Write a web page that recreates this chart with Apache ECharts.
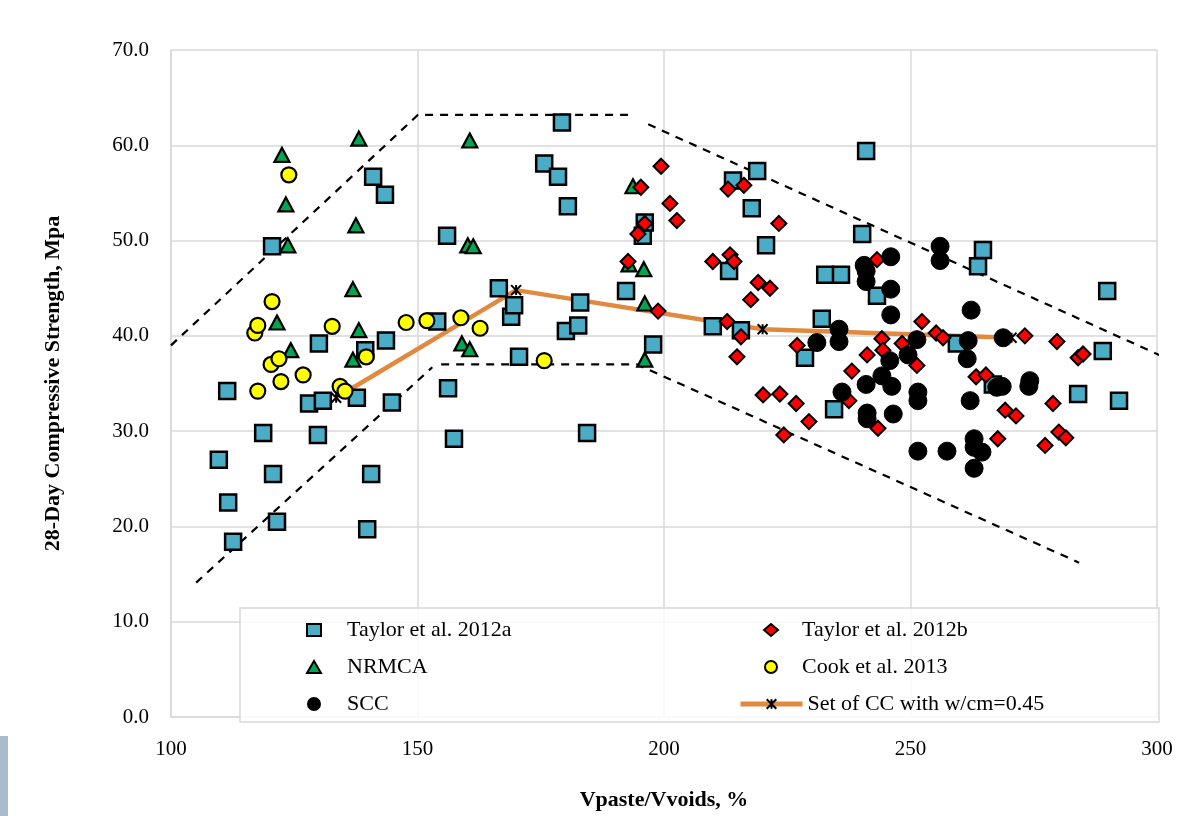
<!DOCTYPE html>
<html>
<head>
<meta charset="utf-8">
<title>28-Day Compressive Strength vs Vpaste/Vvoids</title>
<script src="https://cdn.jsdelivr.net/npm/echarts@6/dist/echarts.min.js"></script>
<style>
  html, body { margin: 0; padding: 0; background: #fff; }
  #myChart { width: 1188px; height: 816px; }
</style>
</head>
<body>
<div id="myChart"></div>
<script>
// values: [Vpaste/Vvoids %, strength MPa]
const taylorA = [
  [109.7, 27.0], [111.4, 34.2], [111.6, 22.5], [112.6, 18.4], [118.7, 29.8], [120.5, 49.4],
  [120.7, 25.5], [121.5, 20.5], [128.0, 32.9], [129.8, 29.6], [130.0, 39.2], [130.8, 33.2],
  [137.7, 33.5], [139.4, 38.5], [139.8, 19.7], [140.6, 25.5], [141.0, 56.7], [143.4, 54.8],
  [143.6, 39.5], [144.8, 33.0],
  [154.0, 41.5], [156.0, 50.5], [156.2, 34.5], [157.4, 29.2], [166.5, 45.0], [169.0, 42.0],
  [169.6, 43.2], [170.6, 37.8], [175.7, 58.1], [178.5, 56.7], [179.3, 62.4], [180.1, 40.5],
  [180.5, 53.6], [182.6, 41.1], [183.0, 43.5], [184.4, 29.8], [192.3, 44.7], [195.7, 50.5],
  [196.1, 51.9], [197.8, 39.1],
  [209.9, 41.0], [213.2, 46.8], [214.0, 56.3], [215.6, 40.6], [217.8, 53.4], [218.9, 57.3],
  [220.7, 49.5], [228.6, 37.7], [232.0, 41.8], [232.7, 46.4], [234.5, 32.3], [235.9, 46.4],
  [240.2, 50.7], [241.0, 59.4], [243.2, 44.2], [259.4, 39.2], [263.7, 47.3], [264.7, 49.0],
  [266.7, 34.9], [284.0, 33.9], [289.0, 38.4], [289.9, 44.7], [292.3, 33.2]
]
const taylorB = [
  [192.7, 47.8], [194.7, 50.7], [195.3, 55.6], [196.1, 51.8], [198.8, 42.6], [199.4, 57.8],
  [201.2, 53.9], [202.6, 52.1], [209.9, 47.8], [212.8, 41.5], [213.0, 55.4], [213.4, 48.5],
  [214.2, 47.8], [214.8, 37.8], [215.6, 39.9], [216.2, 55.8], [217.6, 43.8], [219.1, 45.6],
  [220.1, 33.8], [221.5, 45.0], [223.3, 51.8], [223.5, 33.9], [224.3, 29.6], [226.8, 32.9],
  [227.0, 39.0], [229.4, 31.0], [237.5, 33.2], [238.1, 36.3], [241.2, 38.0], [243.2, 48.0],
  [243.4, 30.3], [244.2, 39.7], [244.4, 38.5], [248.3, 39.2], [251.3, 36.9], [252.3, 41.5],
  [255.2, 40.3], [256.6, 39.8], [263.3, 35.7], [265.3, 35.9], [267.7, 29.2], [269.2, 32.2],
  [271.4, 31.6], [273.2, 40.0], [277.3, 28.5], [278.9, 32.9], [279.7, 39.4], [280.1, 29.9],
  [281.5, 29.3], [284.0, 37.7], [285.0, 38.1]
]
const nrmca = [
  [121.5, 41.4], [122.5, 59.0], [123.3, 53.8], [123.7, 49.5], [124.3, 38.5], [136.9, 44.9],
  [136.9, 37.5], [137.5, 51.6], [138.1, 60.7], [138.1, 40.6], [159.0, 39.2], [160.2, 49.5],
  [160.6, 60.5], [160.6, 38.6], [161.3, 49.4], [192.9, 47.5], [193.7, 55.7], [195.9, 47.0],
  [196.1, 43.4], [196.1, 37.5]
]
const cook = [
  [117.0, 40.3], [117.6, 41.1], [117.6, 34.2], [120.3, 37.0], [120.5, 43.6], [121.9, 37.6],
  [122.3, 35.2], [123.9, 56.9], [126.8, 35.9], [132.7, 41.0], [134.3, 34.7], [135.3, 34.2],
  [139.6, 37.8], [147.7, 41.4], [151.9, 41.6], [158.8, 41.9], [162.7, 40.8], [175.7, 37.4]
]
const scc = [
  [231.0, 39.3], [235.5, 40.7], [235.5, 39.4], [236.1, 34.1], [240.6, 47.4], [241.0, 46.8],
  [241.0, 45.7], [241.0, 34.9], [241.2, 31.9], [241.2, 31.3], [244.2, 35.8], [245.8, 37.4],
  [246.0, 48.3], [246.0, 44.9], [246.0, 42.2], [246.2, 34.7], [246.5, 31.8], [249.5, 38.0],
  [251.3, 39.6], [251.5, 34.1], [251.5, 33.2], [251.5, 27.9], [256.0, 49.4], [256.0, 47.9],
  [257.4, 27.9], [261.5, 37.6], [261.7, 39.5], [262.1, 33.2], [262.3, 42.7], [262.9, 29.2],
  [262.9, 28.3], [262.9, 26.1], [264.5, 27.8], [267.5, 34.6], [268.6, 34.7], [268.8, 39.8],
  [274.0, 34.7], [274.2, 35.3]
]
const setCC = [[133.5, 33.5], [170.0, 44.8], [220.0, 40.7], [270.5, 39.8]]

// dashed envelope
const upperLeft = [[100.0, 39.0], [150.1, 63.2], [192.7, 63.2]]
const upperRight = [[196.8, 62.2], [303.0, 37.4]]
const lowerLeft = [[105.1, 14.1], [153.0, 36.7]]
const lowerRight = [[154.8, 37.0], [194.5, 37.0], [284.2, 16.2]]

const xTicks = [100, 150, 200, 250, 300]
const yTicks = [0, 10, 20, 30, 40, 50, 60, 70]

const FONT = '"Liberation Serif", "DejaVu Serif", serif'
const starPath = 'path://M0,0L10,10M10,0L0,10M5,0L5,10'

function dashed(data) {
  return {
    type: 'line',
    data: data,
    symbol: 'none',
    silent: true,
    clip: false,
    z: 1,
    lineStyle: { color: '#000', width: 2.2, type: [8, 7] }
  }
}

function legendCol(names, left, top, width, pad) {
  return {
    data: names,
    orient: 'vertical',
    left: left,
    top: top,
    itemWidth: width,
    itemHeight: 12,
    itemGap: 15,
    z: 5,
    lineStyle: { width: 5 },
    textStyle: {
      fontFamily: FONT, fontSize: 22, color: '#000',
      padding: [0, 0, 0, pad]
    }
  }
}

const myChart = echarts.init(document.getElementById('myChart'))

const option = {
  animation: false,
  backgroundColor: '#fff',
  textStyle: { fontFamily: FONT },
  grid: { left: 171, right: 31, top: 50, bottom: 94 },
  graphic: [
    {
      type: 'rect',
      z: 3,
      shape: { x: 240, y: 608, width: 919, height: 114 },
      style: { fill: 'rgba(255,255,255,0.82)', stroke: '#d9d9d9', lineWidth: 1.5 }
    },
    {
      type: 'rect',
      shape: { x: 0, y: 736, width: 8, height: 80 },
      style: { fill: '#a9bccb' }
    }
  ],
  legend: [
    legendCol(['Taylor et al. 2012a', 'NRMCA', 'SCC'], 301, 614, 14, 21),
    legendCol(['Taylor et al. 2012b', 'Cook et al. 2013'], 758, 614, 14, 19),
    legendCol(['Set of CC with w/cm=0.45'], 733, 688, 62, 0)
  ],
  xAxis: {
    type: 'value',
    min: xTicks[0],
    max: xTicks[xTicks.length - 1],
    interval: 50,
    name: 'Vpaste/Vvoids, %',
    nameLocation: 'middle',
    nameGap: 72,
    nameTextStyle: { fontFamily: FONT, fontSize: 22, fontWeight: 'bold', color: '#000' },
    axisLine: { show: true, lineStyle: { color: '#d9d9d9', width: 1.5 } },
    axisTick: { show: false },
    axisLabel: { fontFamily: FONT, fontSize: 21, color: '#000', margin: 22 },
    splitLine: { show: true, lineStyle: { color: '#d9d9d9', width: 1.5 } }
  },
  yAxis: {
    type: 'value',
    min: yTicks[0],
    max: yTicks[yTicks.length - 1],
    interval: 10,
    name: '28-Day Compressive Strength, Mpa',
    nameLocation: 'middle',
    nameGap: 107,
    nameTextStyle: { fontFamily: FONT, fontSize: 22, fontWeight: 'bold', color: '#000' },
    axisLine: { show: true, lineStyle: { color: '#d9d9d9', width: 1.5 } },
    axisTick: { show: false },
    axisLabel: {
      fontFamily: FONT, fontSize: 21, color: '#000', margin: 22,
      formatter: v => v.toFixed(1)
    },
    splitLine: { show: true, lineStyle: { color: '#d9d9d9', width: 1.5 } }
  },
  series: [
    dashed(upperLeft),
    dashed(upperRight),
    dashed(lowerLeft),
    dashed(lowerRight),
    {
      name: 'Set of CC with w/cm=0.45',
      type: 'line',
      data: setCC,
      z: 2,
      symbol: starPath,
      symbolSize: 10,
      lineStyle: { color: '#e0893f', width: 4.5 },
      itemStyle: { color: '#000', borderColor: '#000', borderWidth: 2 }
    },
    {
      name: 'Taylor et al. 2012a',
      type: 'scatter',
      data: taylorA,
      z: 3,
      symbol: 'rect',
      symbolSize: 16,
      itemStyle: { color: '#4bacc6', borderColor: '#000', borderWidth: 2.5, opacity: 1 }
    },
    {
      name: 'NRMCA',
      type: 'scatter',
      data: nrmca,
      z: 3,
      symbol: 'triangle',
      symbolSize: [15, 14],
      itemStyle: { color: '#00a651', borderColor: '#000', borderWidth: 2.2, opacity: 1 }
    },
    {
      name: 'Cook et al. 2013',
      type: 'scatter',
      data: cook,
      z: 3,
      symbol: 'circle',
      symbolSize: 15,
      itemStyle: { color: '#ffff00', borderColor: '#000', borderWidth: 2.2, opacity: 1 }
    },
    {
      name: 'Taylor et al. 2012b',
      type: 'scatter',
      data: taylorB,
      z: 3,
      symbol: 'diamond',
      symbolSize: 15,
      itemStyle: { color: '#ff0000', borderColor: '#000', borderWidth: 2, opacity: 1 }
    },
    {
      name: 'SCC',
      type: 'scatter',
      data: scc,
      z: 3,
      symbol: 'circle',
      symbolSize: 18,
      itemStyle: { color: '#000', borderColor: '#000', borderWidth: 1, opacity: 1 }
    }
  ]
}

myChart.setOption(option)
window.addEventListener('resize', function() {
  myChart.resize()
})
</script>
</body>
</html>
